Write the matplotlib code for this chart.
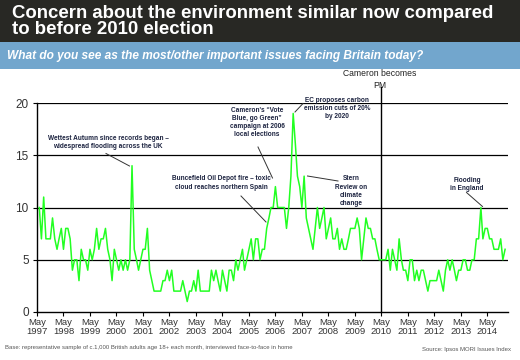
import matplotlib
matplotlib.use("Agg")
import matplotlib.pyplot as plt
import pandas as pd

plt.rcParams['font.family'] = ['Liberation Sans', 'DejaVu Sans']

# Monthly share naming the environment as an important issue (%), Jun 1997 - Jan 2015
start_month = "1997-06-01"
env_values = [
    10, 7, 11, 7, 7, 7, 9, 7, 6, 7, 8, 6, 8, 8, 7, 4, 5, 5, 3, 6,          # m1-20
    5, 5, 4, 6, 5, 6, 8, 6, 7, 7, 8, 6, 5, 3, 6, 5, 4, 5, 4, 5,            # m21-40
    4, 5, 14, 6, 5, 4, 5, 6, 6, 8, 4, 3, 2, 2, 2, 2, 3, 3, 4, 3,           # m41-60
    4, 2, 2, 2, 2, 3, 2, 1, 2, 2, 3, 2, 4, 2, 2, 2, 2, 2, 4, 3,            # m61-80
    4, 3, 2, 4, 3, 2, 4, 4, 3, 5, 4, 5, 6, 4, 5, 6, 7, 5, 7, 7,            # m81-100
    5, 6, 6, 8, 9, 10, 10, 12, 10, 10, 10, 10, 8, 10, 13, 19, 16, 13, 12, 10,  # m101-120
    13, 9, 8, 7, 6, 8, 10, 8, 9, 10, 7, 8, 9, 7, 7, 8, 6, 7, 6, 6,         # m121-140
    7, 8, 8, 8, 9, 8, 5, 7, 9, 8, 8, 7, 7, 6, 5, 5, 5, 5, 6, 4,            # m141-160
    6, 5, 4, 7, 5, 4, 4, 3, 5, 5, 3, 4, 3, 4, 4, 3, 2, 3, 3, 3,            # m161-180
    3, 4, 3, 2, 4, 5, 4, 5, 4, 3, 4, 4, 5, 5, 4, 4, 5, 5, 7, 7,            # m181-200
    10, 7, 8, 8, 7, 7, 6, 6, 6, 7, 5, 6,                                   # m201-212
]
tick_years = list(range(1997, 2015))
y_ticks = [0, 5, 10, 15, 20]

dates = pd.date_range(start_month, periods=len(env_values), freq="MS")

fig = plt.figure(figsize=(5.2, 3.6), dpi=100)
fig.patch.set_facecolor("white")

# Title band
fig.patches.append(plt.Rectangle((0, 1 - 42 / 360), 1, 42 / 360, transform=fig.transFigure,
                                 facecolor="#282824", edgecolor="none", zorder=0))
fig.patches.append(plt.Rectangle((0, 1 - 69 / 360), 1, 27 / 360, transform=fig.transFigure,
                                 facecolor="#72a6cd", edgecolor="none", zorder=0))
fig.text(12 / 520, 1 - 4.5 / 360, "Concern about the environment similar now compared\nto before 2010 election",
         color="white", fontsize=13.4, fontweight="bold", va="top", ha="left", linespacing=0.93)
fig.text(7 / 520, 1 - 55.5 / 360, "What do you see as the most/other important issues facing Britain today?",
         color="white", fontsize=8.6, fontweight="bold", style="italic", va="center", ha="left")

ax = fig.add_axes([37 / 520, 48 / 360, 471 / 520, 209 / 360])
ax.plot(dates, env_values, color="#22ff22", lw=1.1, zorder=3)

ax.set_ylim(0, 20)
ax.set_xlim(pd.Timestamp("1997-05-01"), pd.Timestamp("2015-02-10"))
ax.set_yticks(y_ticks)
ax.set_yticklabels([str(t) for t in y_ticks], fontsize=8.5, color="#333333")
for t in y_ticks[1:]:
    ax.axhline(t, color="black", lw=0.9, zorder=1)

tick_dates = [pd.Timestamp(f"{y}-05-01") for y in tick_years]
ax.set_xticks(tick_dates)
ax.set_xticklabels([f"May\n{y}" for y in tick_years], fontsize=6.8, color="#333333", linespacing=1.0)
ax.tick_params(axis="x", length=3, width=0.8, pad=1.5)
ax.tick_params(axis="y", length=3, width=0.8, pad=3)

for s in ["top", "right"]:
    ax.spines[s].set_visible(False)
ax.spines["left"].set_linewidth(1.0)
ax.spines["bottom"].set_linewidth(1.0)

# Election line
elec = pd.Timestamp("2010-05-01")
ax.plot([elec, elec], [0, 21.5], color="black", lw=1.0, clip_on=False, zorder=2)
fig.text(380 / 520, 1 - 74 / 360, "Cameron becomes", ha="center", va="center", fontsize=6.2, color="#222222")
fig.text(380 / 520, 1 - 85 / 360, "PM", ha="center", va="center", fontsize=6.2, color="#222222")

ann_color = "#1c2340"
ann_kw = dict(fontsize=4.7, fontweight="bold", color=ann_color, ha="center", va="center", linespacing=1.25)


def note(text, tx, ty, x0, y0, x1, y1):
    fig.text(tx / 520, 1 - ty / 360, text, **ann_kw)
    fig.add_artist(plt.Line2D([x0 / 520, x1 / 520], [1 - y0 / 360, 1 - y1 / 360],
                              transform=fig.transFigure, color="#333333", lw=0.7))


note("Wettest Autumn since records began \u2013\nwidespread flooding across the UK", 108, 142.5, 106, 153.5, 129.5, 166)
note("Buncefield Oil Depot fire \u2013 toxic\ncloud reaches northern Spain", 221, 183, 241, 196, 266, 222)
note("Cameron's \u201cVote\nBlue, go Green\u201d\ncampaign at 2006\nlocal elections", 257, 122.5, 258, 147, 272.5, 178)
note("EC proposes carbon\nemission cuts of 20%\nby 2020", 337, 108.7, 303, 103.5, 295, 112)
note("Stern\nReview on\nclimate\nchange", 351, 191.3, 307.5, 176, 338, 181)
note("Flooding\nin England", 467, 184.7, 466.5, 192.5, 482.5, 206.5)

fig.text(5 / 520, 1 - 348 / 360, "Base: representative sample of c.1,000 British adults age 18+ each month, interviewed face-to-face in home",
         fontsize=4.3, color="#555555", ha="left", va="center")
fig.text(511 / 520, 1 - 350 / 360, "Source: Ipsos MORI Issues Index", fontsize=4.3, color="#555555",
         ha="right", va="center")

fig.savefig("out.png", dpi=100)
